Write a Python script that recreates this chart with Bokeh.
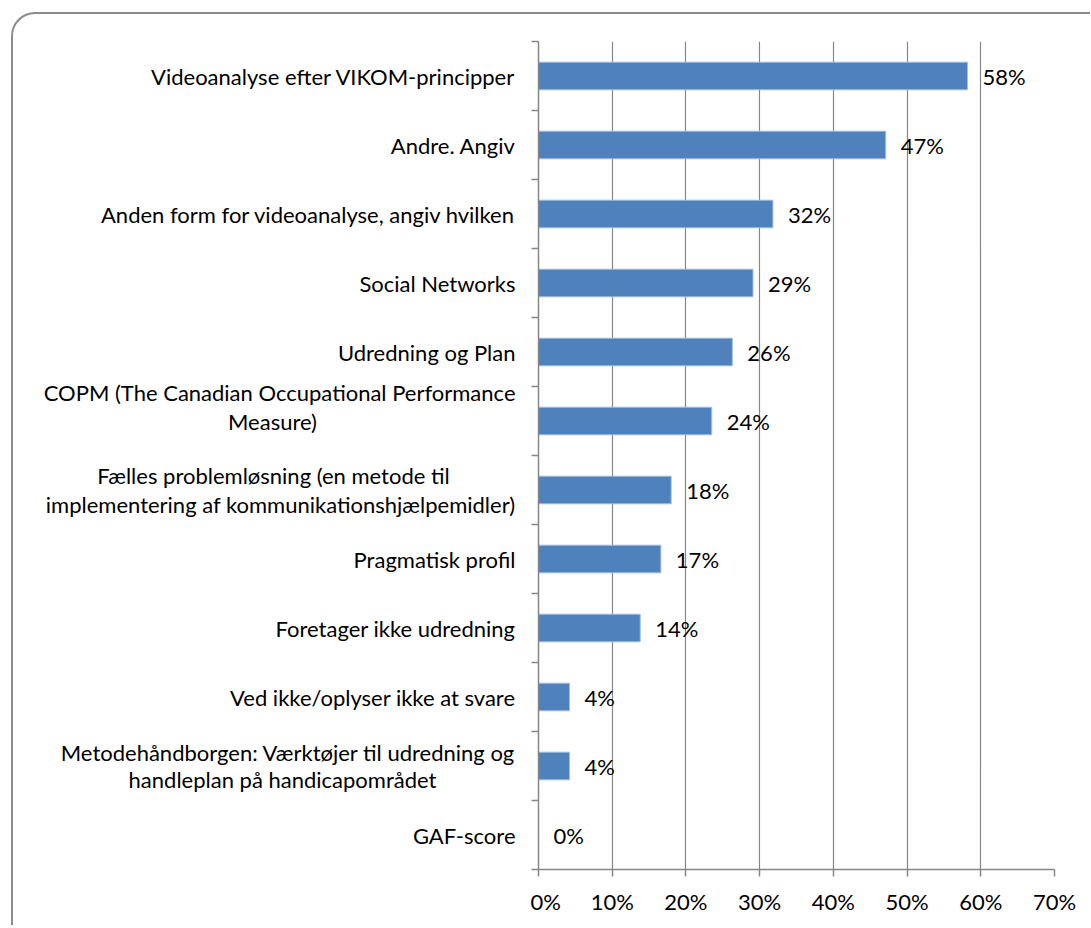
from bokeh.plotting import figure
from bokeh.models import Range1d, FixedTicker, ColumnDataSource, LabelSet, Row
from bokeh.core.properties import value
from bokeh.embed import file_html
from bokeh.resources import INLINE

# ---- data (top to bottom as in the chart) ----
categories = [
    "Videoanalyse efter VIKOM-principper",
    "Andre. Angiv",
    "Anden form for videoanalyse, angiv hvilken",
    "Social Networks",
    "Udredning og Plan",
    "COPM (The Canadian Occupational Performance\nMeasure)",
    "Fælles problemløsning (en metode til\nimplementering af kommunikationshjælpemidler)",
    "Pragmatisk profil",
    "Foretager ikke udredning",
    "Ved ikke/oplyser ikke at svare",
    "Metodehåndborgen: Værktøjer til udredning og\nhandleplan på handicapområdet",
    "GAF-score",
]
values = [58.2, 47.1, 31.8, 29.1, 26.3, 23.5, 18.0, 16.6, 13.8, 4.2, 4.2, 0.0]
value_labels = ["58%", "47%", "32%", "29%", "26%", "24%", "18%", "17%", "14%", "4%", "4%", "0%"]
x_ticks = [0, 10, 20, 30, 40, 50, 60, 70]
x_tick_labels = ["0%", "10%", "20%", "30%", "40%", "50%", "60%", "70%"]

# ---- style / layout ----
FONT = "Lato"
FSIZE = "22px"
GRAY = "#868686"
STANDOFF = 23            # px from category axis to right edge of its label
LAB_W = 517              # width of the label panel
AX_W = 8                 # room for the category ticks left of the main frame
FRAME_H = 830
TOP, BOTTOM = 27, 46
H = TOP + FRAME_H + BOTTOM
# approx. pixel width used to centre the short line of each wrapped label
LONG_LINE_PX = {5: 486, 6: 484, 10: 466}
# vertical offsets (px, positive = down) of the two lines of wrapped labels
LINE_DY = {5: (-29, 0), 6: (-14.5, 14.5), 10: (-14, 14)}

n = len(categories)
centers = [i + 0.5 for i in range(n)]
boundaries = [i for i in range(n + 1)]
px_per_cat = FRAME_H / n

src = ColumnDataSource(dict(y=centers, v=values, lbl=value_labels))

# category label source (one row per text line), in label-panel pixel units
right_x = LAB_W + AX_W - STANDOFF
cx, cy, ctext, calign = [], [], [], []
for i, cat in enumerate(categories):
    lines = cat.split("\n")
    if len(lines) == 1:
        cx.append(right_x); cy.append(centers[i]); ctext.append(cat); calign.append("right")
    else:
        longest = max(lines, key=len)
        for line, dy in zip(lines, LINE_DY[i]):
            cy.append(centers[i] + dy / px_per_cat)
            ctext.append(line)
            if line == longest:
                cx.append(right_x); calign.append("right")
            else:
                cx.append(right_x - LONG_LINE_PX[i] / 2); calign.append("center")
cat_src = ColumnDataSource(dict(x=cx, y=cy, t=ctext, al=calign))

y_range = Range1d(n, 0)

# ---- label panel ----
pl = figure(
    width=LAB_W, height=H,
    x_range=Range1d(0, LAB_W), y_range=y_range,
    x_axis_type=None, y_axis_type=None,
    output_backend="svg", toolbar_location=None,
    min_border_left=0, min_border_right=0,
    min_border_top=TOP, min_border_bottom=BOTTOM,
)
pl.outline_line_color = None
pl.border_fill_color = None
pl.background_fill_color = None
pl.xgrid.visible = False
pl.ygrid.visible = False
pl.text(x="x", y="y", text="t", source=cat_src, text_align="al",
        text_baseline="middle", text_font=value(FONT),
        text_font_size=value(FSIZE), text_color="black")

# ---- main chart ----
p = figure(
    width=AX_W + 516 + 22, height=H,
    x_range=Range1d(0, 70), y_range=y_range,
    output_backend="svg", toolbar_location=None,
    min_border_left=AX_W, min_border_right=22,
    min_border_top=TOP, min_border_bottom=BOTTOM,
)
p.outline_line_color = None
p.border_fill_color = None
p.background_fill_color = "white"

p.hbar(y="y", left=0, right="v", height=0.4, source=src,
       fill_color="#4F81BD", line_color="#A3BDDD", line_width=1)

labels = LabelSet(x="v", y="y", text="lbl", source=src, x_offset=15,
                  text_baseline="middle", text_align="left",
                  text_font=value(FONT), text_font_size=value(FSIZE), text_color="black")
p.add_layout(labels)

# x axis
xa = p.xaxis[0]
xa.ticker = FixedTicker(ticks=x_ticks)
xa.major_label_overrides = {t: l for t, l in zip(x_ticks, x_tick_labels)}
xa.axis_line_color = GRAY
xa.axis_line_width = 1.5
xa.major_tick_line_color = GRAY
xa.major_tick_line_width = 1.5
xa.major_tick_out = 7
xa.major_tick_in = 0
xa.minor_tick_line_color = None
xa.major_label_standoff = 11
xa.major_label_text_font = FONT
xa.major_label_text_font_size = FSIZE
xa.major_label_text_color = "black"

# y axis: only tick marks between categories
ya = p.yaxis[0]
ya.ticker = FixedTicker(ticks=[], minor_ticks=boundaries)
ya.major_label_standoff = 0
ya.axis_line_color = GRAY
ya.axis_line_width = 1.5
ya.major_tick_out = 0
ya.major_tick_in = 0
ya.major_tick_line_color = None
ya.minor_tick_out = 7
ya.minor_tick_in = 0
ya.minor_tick_line_color = GRAY
ya.minor_tick_line_width = 1.5

p.ygrid.visible = False
p.xgrid.ticker = FixedTicker(ticks=x_ticks)
p.xgrid.grid_line_color = GRAY
p.xgrid.grid_line_width = 1.2

layout = Row(pl, p, spacing=0)
layout.styles = {
    "margin-left": "11px",
    "margin-top": "12px",
    "padding-right": "14px",
    "padding-bottom": "8px",
    "border-top": "2px solid #8C8C8C",
    "border-left": "2px solid #8C8C8C",
    "border-top-left-radius": "24px",
}

open("out.html", "w").write(file_html(layout, INLINE))
